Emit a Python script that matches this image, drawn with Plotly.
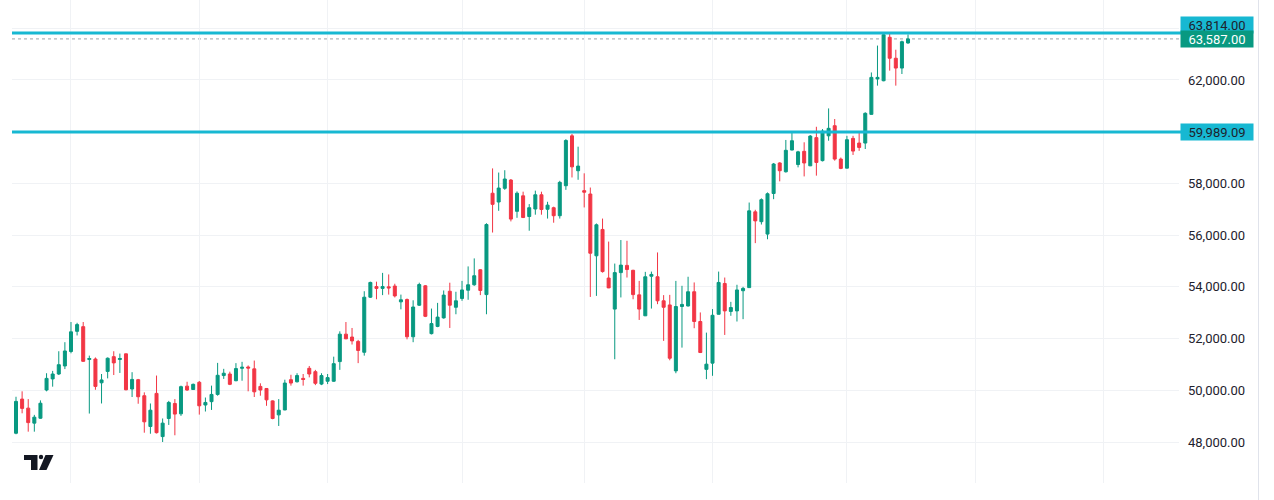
import plotly.graph_objects as go

# ---------------- data ----------------
opens = [48340, 49660, 49310, 48730, 48920, 50010, 50440, 50630, 50940, 51500,
         52280, 52460, 51190, 51210, 50290, 50730, 51300, 51190, 51410, 50050,
         50410, 49790, 48600, 49880, 48210, 48910, 49490, 49090, 50160, 50030,
         50310, 49430, 49560, 49840, 50570, 50630, 50370, 50850, 50900, 50830,
         50150, 50070, 49590, 49050, 49240, 50410, 50330, 50460, 50850, 50720,
         50240, 50350, 50350, 51110, 52170, 52060, 51890, 51470, 53600, 54010,
         53940, 54000, 54030, 53420, 53510, 52070, 53290, 54040, 52190, 52470,
         52800, 53830, 53210, 53550, 53870, 54080, 54660, 53700, 57620, 57280,
         57810, 58130, 56920, 57520, 56720, 57010, 57560, 57000, 57060, 56750,
         57910, 59840, 58490, 57720, 57590, 55200, 56220, 54340, 53140, 54550,
         54830, 54640, 53690, 52880, 54410, 54390, 53460, 53300, 50750, 53240,
         53260, 53810, 52660, 50810, 51050, 52940, 54130, 53050, 53070, 53850,
         53970, 56900, 56520, 56040, 57610, 58790, 58450, 59290, 58730, 59240,
         58680, 59770, 58880, 59840, 60230, 58940, 58590, 59740, 59560, 59560,
         60670, 62040, 61970, 63650, 62840, 62460, 63430]
highs = [49750, 49960, 49660, 49050, 49610, 50660, 50750, 51510, 51860, 52640,
         52610, 52640, 51340, 51270, 50630, 51270, 51510, 51420, 51420, 50700,
         50440, 49920, 49490, 50570, 48910, 49590, 49660, 50180, 50330, 50260,
         50360, 49720, 50180, 51060, 50830, 50720, 51050, 51100, 50960, 51150,
         50270, 50080, 49610, 49660, 50410, 50600, 50660, 50630, 50940, 50790,
         50660, 50630, 51300, 52280, 52640, 52410, 51950, 53830, 54200, 54200,
         54540, 54480, 54120, 53700, 53550, 53480, 54160, 54070, 53160, 53380,
         53860, 54160, 53810, 54230, 54790, 55100, 54680, 56460, 58580, 58420,
         58510, 58170, 57690, 57680, 57200, 57720, 57680, 57290, 57100, 58100,
         59710, 59910, 59420, 58390, 57840, 56450, 56640, 55750, 54900, 55810,
         55780, 54660, 54230, 54580, 54590, 55330, 53680, 53690, 54230, 54040,
         54390, 54170, 53010, 52230, 53140, 54590, 54360, 53420, 54080, 54000,
         57260, 56980, 57420, 57650, 58790, 58820, 59680, 59970, 59260, 59590,
         59870, 60190, 60100, 60900, 60490, 59000, 59840, 59840, 59950, 60750,
         62290, 63330, 63814, 63780, 63170, 63520, 63760]
lows = [48300, 49110, 48400, 48400, 48900, 49960, 50140, 50590, 50820, 51430,
        52120, 51100, 49100, 50020, 49490, 50460, 50590, 50670, 50000, 49740,
        49480, 48360, 48320, 48330, 48000, 48660, 48260, 49010, 49980, 50020,
        49060, 49180, 49240, 49790, 50440, 50200, 50350, 50370, 49960, 49740,
        49790, 49400, 48880, 48620, 49230, 50180, 50300, 50180, 50500, 50200,
        50200, 50240, 50330, 50790, 51980, 51770, 51050, 51340, 53570, 53520,
        53680, 53700, 53590, 53130, 51970, 51860, 53260, 52830, 52160, 52440,
        52770, 52410, 52940, 53460, 53500, 54040, 53680, 52940, 56100, 56940,
        57750, 56530, 56670, 56660, 56170, 56790, 56790, 56640, 56480, 56640,
        57750, 58230, 58140, 57070, 53610, 53650, 54550, 53950, 51200, 53590,
        54360, 53520, 52720, 52870, 53160, 53330, 51910, 51160, 50660, 51650,
        53240, 52400, 51440, 50430, 50560, 52930, 52140, 52880, 52660, 52750,
        53960, 55690, 56410, 55840, 57390, 58080, 58420, 59280, 58620, 58270,
        58670, 58300, 58850, 59650, 58880, 58550, 58580, 59100, 59260, 59330,
        60660, 61780, 61950, 62360, 61780, 62230, 63400]
closes = [49570, 49300, 48750, 48960, 49500, 50460, 50630, 50990, 51520, 52260,
          52540, 51120, 51230, 50150, 50400, 51240, 51060, 51230, 50020, 50420,
          49750, 48780, 49230, 48360, 48730, 49530, 49080, 50140, 50010, 50230,
          49400, 49530, 49840, 50580, 50660, 50230, 50840, 50890, 50860, 49940,
          50010, 49630, 48910, 49230, 50280, 50280, 50570, 50420, 50630, 50270,
          50570, 50490, 51030, 52170, 51990, 51910, 51540, 53600, 54170, 53940,
          54010, 53960, 53650, 53500, 52070, 53220, 54090, 52860, 52580, 52830,
          53680, 53290, 53460, 53880, 54080, 54430, 53860, 56410, 57190, 57820,
          58170, 56620, 57620, 56680, 57060, 57560, 56990, 57160, 56750, 58040,
          59660, 58640, 58670, 57660, 55300, 56400, 54590, 53960, 54550, 54840,
          54670, 53700, 53140, 54390, 54480, 53460, 53210, 51240, 53240, 53320,
          53810, 52660, 51460, 51010, 52900, 54170, 53070, 53200, 53880, 53940,
          56940, 56550, 57370, 57600, 58750, 58490, 59280, 59650, 59220, 58790,
          59830, 58810, 60020, 60130, 58940, 58580, 59690, 59250, 59390, 60710,
          62100, 62100, 63750, 62840, 62460, 63480, 63587]
bar_index = list(range(len(opens)))

level_lines = [63814.00, 59989.09]
last_price = 63587.00
y_tick_vals = [48000, 50000, 52000, 54000, 56000, 58000, 60000, 62000, 64000]
y_tick_text = ["48,000.00", "50,000.00", "52,000.00", "54,000.00", "56,000.00",
               "58,000.00", "", "62,000.00", ""]
grid_bar_index = [9, 30, 51, 73, 93, 114, 136, 157, 178]

# ---------------- layout constants ----------------
W, H = 1274, 500
ML, MR, MT, MB = 12, 95, 0, 17
PW = W - ML - MR
PH = H - MT - MB
X_RANGE = [-0.655, 190.35]
Y_RANGE = [46415, 65092]

GREEN = "#089981"
RED = "#F23645"
CYAN = "#17b8d2"
GRID = "#f0f2f5"
TEXT = "#1e222d"
FONT = "Roboto"


def px2paper(x, y):
    return (x - ML) / PW, 1 - (y - MT) / PH


def poly_path(points):
    pts = [px2paper(x, y) for x, y in points]
    return "M " + " L ".join(f"{a:.5f},{b:.5f}" for a, b in pts) + " Z"


fig = go.Figure()
fig.add_trace(go.Candlestick(
    x=bar_index, open=opens, high=highs, low=lows, close=closes,
    increasing=dict(line=dict(color=GREEN, width=1), fillcolor=GREEN),
    decreasing=dict(line=dict(color=RED, width=1), fillcolor=RED),
    whiskerwidth=0, hoverinfo="skip", showlegend=False,
))

shapes = []
# dotted last-price line
shapes.append(dict(type="line", xref="paper", yref="y", x0=0, x1=1,
                   y0=last_price, y1=last_price,
                   line=dict(color="#9aa3a8", width=1, dash="dot"), layer="below"))
# cyan level lines
for lv in level_lines:
    shapes.append(dict(type="line", xref="paper", yref="y", x0=0, x1=1.002,
                       y0=lv, y1=lv, line=dict(color=CYAN, width=3), layer="above"))
# price-scale border line
bx, _ = px2paper(1258.5, 0)
shapes.append(dict(type="line", xref="paper", yref="paper", x0=bx, x1=bx,
                   y0=-MB / PH, y1=1, line=dict(color="#e0e3eb", width=1)))

# TradingView-like logo (bottom left)
shapes.append(dict(type="path", xref="paper", yref="paper",
                   path=poly_path([(24, 455), (37.5, 455), (37.5, 470), (31, 470), (31, 460), (24, 460)]),
                   fillcolor="#131722", line=dict(width=0)))
cx0, cy0 = px2paper(38.8, 454.8)
cx1, cy1 = px2paper(43.2, 459.2)
shapes.append(dict(type="circle", xref="paper", yref="paper", x0=cx0, x1=cx1, y0=cy1, y1=cy0,
                   fillcolor="#131722", line=dict(width=0)))
shapes.append(dict(type="path", xref="paper", yref="paper",
                   path=poly_path([(45.5, 455), (53.5, 455), (46.5, 470), (39, 470)]),
                   fillcolor="#131722", line=dict(width=0)))

annotations = []
lx, _ = px2paper(1180, 0)
labels = [
    (level_lines[0], "63,814.00", CYAN, TEXT, 8),
    (last_price, "63,587.00", GREEN, "#ffffff", 0),
    (level_lines[1], "59,989.09", CYAN, TEXT, 0),
]
for val, txt, bg, fg, ys in labels:
    annotations.append(dict(
        xref="paper", yref="y", x=lx, y=val, xanchor="left", yanchor="middle",
        text=txt, showarrow=False, bgcolor=bg, borderpad=2, width=68, height=12,
        align="center", yshift=ys, font=dict(family=FONT, size=13, color=fg)))

fig.update_layout(
    width=W, height=H,
    margin=dict(l=ML, r=MR, t=MT, b=MB, pad=0),
    paper_bgcolor="white", plot_bgcolor="white",
    shapes=shapes, annotations=annotations,
    font=dict(family=FONT, size=13, color=TEXT),
    showlegend=False,
    xaxis=dict(range=X_RANGE, rangeslider=dict(visible=False), showticklabels=False,
               tickvals=grid_bar_index, showgrid=True, gridcolor=GRID, gridwidth=1,
               zeroline=False, showline=False, ticks=""),
    yaxis=dict(range=Y_RANGE, side="right", tickvals=y_tick_vals, ticktext=y_tick_text,
               showgrid=True, gridcolor=GRID, gridwidth=1, zeroline=False, showline=False,
               ticks="", ticklabelstandoff=8,
               tickfont=dict(family=FONT, size=13, color=TEXT)),
    hovermode=False,
)

fig.write_html("out.html")
